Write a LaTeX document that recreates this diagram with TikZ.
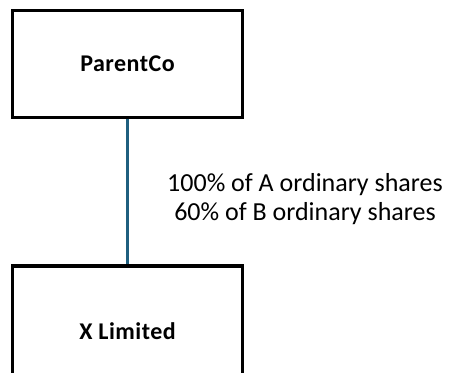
\documentclass[tikz,border=0pt]{standalone}
\usepackage{fontspec}
\setmainfont{Carlito}
\begin{document}
\begin{tikzpicture}[x=1pt,y=-1pt,
  entity/.style={draw=black,line width=3.5pt,minimum width=230pt,minimum height=107pt,inner sep=0pt,font=\bfseries\fontsize{24}{28}\selectfont\addfontfeatures{LetterSpace=2}},
  link/.style={line width=2.2pt},
  lbl/.style={align=center,font=\fontsize{26}{28.5}\selectfont,inner sep=0pt}]
\useasboundingbox (0,0) rectangle (451,373);
\definecolor{linkc}{HTML}{1F5F7F}
\node[entity] (p) at (127.5,63.75) {ParentCo};
\begin{scope}
\clip (0,0) rectangle (451,373);
\node[entity,minimum height=130pt] (x) at (127.5,331) {X Limited};
\end{scope}
\draw[link,draw=linkc] (p.south) -- (x.north);
\node[lbl] (t) at (305,199) {100\% of A ordinary shares\\60\% of B ordinary shares};
\end{tikzpicture}
\end{document}
